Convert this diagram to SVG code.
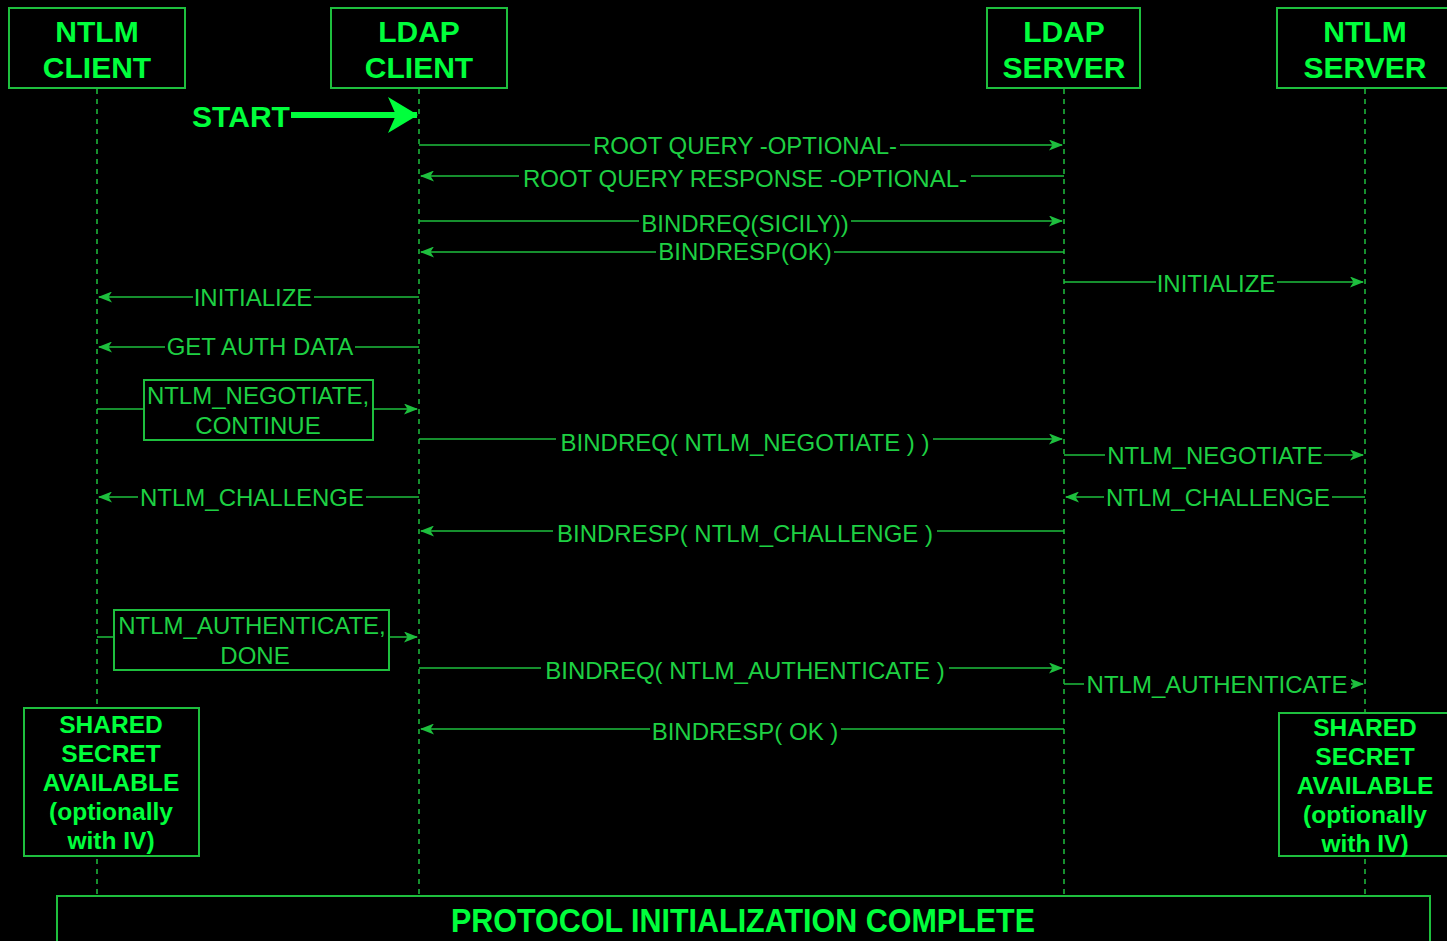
<svg xmlns="http://www.w3.org/2000/svg" width="1447" height="941" viewBox="0 0 1447 941">
<defs>
<style>
.bg{fill:#000}
.box{fill:#000;stroke:#1ebf3e;stroke-width:2}
.life{stroke:#1ebf3e;stroke-width:1.5;stroke-dasharray:5 5;fill:none}
.msg{stroke:#1ebf3e;stroke-width:1.5;fill:none}
.hd{font-family:"Liberation Sans",Arial,sans-serif;font-weight:bold;font-size:30px;fill:#00ff3c;text-anchor:middle}
.sb{font-family:"Liberation Sans",Arial,sans-serif;font-weight:bold;font-size:24.5px;fill:#00ff3c;text-anchor:middle}
.lb{font-family:"Liberation Sans",Arial,sans-serif;font-size:24px;fill:#1ed043;text-anchor:middle}
.lbg{fill:#000}
</style>
<marker id="ah" viewBox="0 0 14 11" refX="13" refY="5.5" markerWidth="14" markerHeight="11" markerUnits="userSpaceOnUse" orient="auto">
<path d="M0,0 L14,5.5 L0,11 L3.5,5.5 z" fill="#1ebf3e"/>
</marker>
<marker id="big" viewBox="0 0 30 36" refX="29" refY="18" markerWidth="30" markerHeight="36" markerUnits="userSpaceOnUse" orient="auto">
<path d="M0,0 L30,18 L0,36 L8,18 z" fill="#00ff3c"/>
</marker>
</defs>
<rect class="bg" x="0" y="0" width="1447" height="941"/>

<g id="lifelines">
<line class="life" x1="97" y1="89" x2="97" y2="896"/>
<line class="life" x1="419" y1="89" x2="419" y2="896"/>
<line class="life" x1="1064" y1="89" x2="1064" y2="896"/>
<line class="life" x1="1365" y1="89" x2="1365" y2="896"/>
</g>

<g id="ntlm-client">
<rect class="box" x="9" y="8" width="176" height="80"/>
<text class="hd" x="97" y="42">NTLM</text>
<text class="hd" x="97" y="78">CLIENT</text>
</g>
<g id="ldap-client">
<rect class="box" x="331" y="8" width="176" height="80"/>
<text class="hd" x="419" y="42">LDAP</text>
<text class="hd" x="419" y="78">CLIENT</text>
</g>
<g id="ldap-server">
<rect class="box" x="987" y="8" width="153" height="80"/>
<text class="hd" x="1064" y="42">LDAP</text>
<text class="hd" x="1064" y="78">SERVER</text>
</g>
<g id="ntlm-server">
<rect class="box" x="1277" y="8" width="176" height="80"/>
<text class="hd" x="1365" y="42">NTLM</text>
<text class="hd" x="1365" y="78">SERVER</text>
</g>

<g id="start">
<text class="hd" x="241" y="127">START</text>
<line x1="291" y1="115" x2="417" y2="115" stroke="#00ff3c" stroke-width="6" marker-end="url(#big)"/>
</g>

<g id="connectors">
<line class="msg" x1="419" y1="145" x2="1062" y2="145" marker-end="url(#ah)"/>
<rect class="lbg" x="590" y="134" width="310" height="22"/>
<text class="lb" x="745" y="154">ROOT QUERY -OPTIONAL-</text>

<line class="msg" x1="1064" y1="176" x2="421" y2="176" marker-end="url(#ah)"/>
<rect class="lbg" x="519" y="166" width="452" height="22"/>
<text class="lb" x="745" y="187">ROOT QUERY RESPONSE -OPTIONAL-</text>

<line class="msg" x1="419" y1="221" x2="1062" y2="221" marker-end="url(#ah)"/>
<rect class="lbg" x="639" y="211" width="212" height="22"/>
<text class="lb" x="745" y="232">BINDREQ(SICILY))</text>

<line class="msg" x1="1064" y1="252" x2="421" y2="252" marker-end="url(#ah)"/>
<rect class="lbg" x="656" y="240" width="178" height="22"/>
<text class="lb" x="745" y="260">BINDRESP(OK)</text>

<line class="msg" x1="1064" y1="282" x2="1363" y2="282" marker-end="url(#ah)"/>
<rect class="lbg" x="1156" y="272" width="121" height="22"/>
<text class="lb" x="1216" y="292">INITIALIZE</text>

<line class="msg" x1="419" y1="297" x2="99" y2="297" marker-end="url(#ah)"/>
<rect class="lbg" x="193" y="287" width="121" height="22"/>
<text class="lb" x="253" y="306">INITIALIZE</text>

<line class="msg" x1="419" y1="347" x2="99" y2="347" marker-end="url(#ah)"/>
<rect class="lbg" x="165" y="337" width="190" height="22"/>
<text class="lb" x="260" y="355">GET AUTH DATA</text>

<line class="msg" x1="97" y1="409" x2="144" y2="409"/>
<line class="msg" x1="373" y1="409" x2="417" y2="409" marker-end="url(#ah)"/>

<line class="msg" x1="419" y1="439" x2="1062" y2="439" marker-end="url(#ah)"/>
<rect class="lbg" x="556" y="429" width="377" height="22"/>
<text class="lb" x="745" y="451">BINDREQ( NTLM_NEGOTIATE ) )</text>

<line class="msg" x1="1064" y1="455" x2="1363" y2="455" marker-end="url(#ah)"/>
<rect class="lbg" x="1105" y="445" width="219" height="22"/>
<text class="lb" x="1215" y="464">NTLM_NEGOTIATE</text>

<line class="msg" x1="419" y1="497" x2="99" y2="497" marker-end="url(#ah)"/>
<rect class="lbg" x="138" y="487" width="228" height="22"/>
<text class="lb" x="252" y="506">NTLM_CHALLENGE</text>

<line class="msg" x1="1365" y1="497" x2="1066" y2="497" marker-end="url(#ah)"/>
<rect class="lbg" x="1104" y="487" width="228" height="22"/>
<text class="lb" x="1218" y="506">NTLM_CHALLENGE</text>

<line class="msg" x1="1064" y1="531" x2="421" y2="531" marker-end="url(#ah)"/>
<rect class="lbg" x="553" y="521" width="384" height="22"/>
<text class="lb" x="745" y="542">BINDRESP( NTLM_CHALLENGE )</text>

<line class="msg" x1="97" y1="637" x2="114" y2="637"/>
<line class="msg" x1="389" y1="637" x2="417" y2="637" marker-end="url(#ah)"/>

<line class="msg" x1="419" y1="668" x2="1062" y2="668" marker-end="url(#ah)"/>
<rect class="lbg" x="541" y="658" width="408" height="22"/>
<text class="lb" x="745" y="679">BINDREQ( NTLM_AUTHENTICATE )</text>

<line class="msg" x1="1064" y1="684" x2="1363" y2="684" marker-end="url(#ah)"/>
<rect class="lbg" x="1084" y="674" width="267" height="22"/>
<text class="lb" x="1217" y="693">NTLM_AUTHENTICATE</text>

<line class="msg" x1="1064" y1="729" x2="421" y2="729" marker-end="url(#ah)"/>
<rect class="lbg" x="650" y="719" width="191" height="22"/>
<text class="lb" x="745" y="740">BINDRESP( OK )</text>
</g>

<g id="negotiate-box">
<rect class="box" x="144" y="380" width="229" height="60"/>
<text class="lb" x="258" y="404">NTLM_NEGOTIATE,</text>
<text class="lb" x="258" y="434">CONTINUE</text>
</g>

<g id="authenticate-box">
<rect class="box" x="114" y="610" width="275" height="60"/>
<text class="lb" x="252" y="634">NTLM_AUTHENTICATE,</text>
<text class="lb" x="255" y="664">DONE</text>
</g>

<g id="shared-secret-client">
<rect class="box" x="24" y="708" width="175" height="148"/>
<text class="sb" x="111" y="733">SHARED</text>
<text class="sb" x="111" y="762">SECRET</text>
<text class="sb" x="111" y="791">AVAILABLE</text>
<text class="sb" x="111" y="820">(optionally</text>
<text class="sb" x="111" y="849">with IV)</text>
</g>

<g id="shared-secret-server">
<rect class="box" x="1279" y="713" width="175" height="143"/>
<text class="sb" x="1365" y="736">SHARED</text>
<text class="sb" x="1365" y="765">SECRET</text>
<text class="sb" x="1365" y="794">AVAILABLE</text>
<text class="sb" x="1365" y="823">(optionally</text>
<text class="sb" x="1365" y="852">with IV)</text>
</g>

<g id="protocol-complete">
<rect class="box" x="57" y="896" width="1373" height="60"/>
<text class="hd" x="743" y="932" style="font-size:33px" textLength="584" lengthAdjust="spacingAndGlyphs">PROTOCOL INITIALIZATION COMPLETE</text>
</g>
</svg>
